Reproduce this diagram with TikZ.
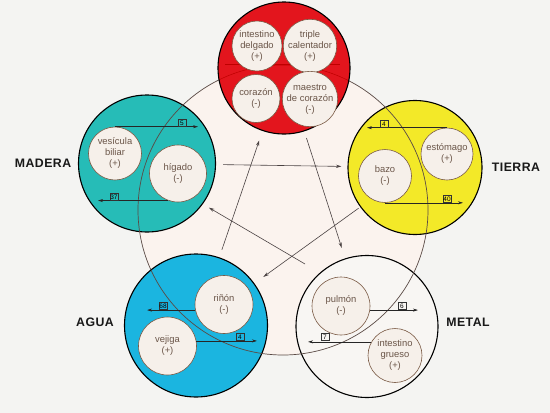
\documentclass[tikz,border=0pt]{standalone}
\usepackage{fontspec}
\setmainfont{Liberation Sans}
\newfontfamily\elemfont[LetterSpace=4]{Liberation Sans}
\usetikzlibrary{arrows.meta}
\definecolor{bg}{HTML}{F4F4F2}
\definecolor{bigfill}{HTML}{FBF3EE}
\definecolor{bigline}{HTML}{5A4A45}
\definecolor{firec}{HTML}{E3151D}
\definecolor{woodc}{HTML}{26BCB7}
\definecolor{earthc}{HTML}{F3E928}
\definecolor{waterc}{HTML}{1BB5E0}
\definecolor{metalc}{HTML}{F8F6F3}
\definecolor{organfill}{HTML}{F6F0EA}
\definecolor{organline}{HTML}{7A5A45}
\definecolor{organtext}{HTML}{6A5548}
\definecolor{starc}{HTML}{4A4242}
\begin{document}
\begin{tikzpicture}[x=1pt,y=-1pt,
  elem/.style={circle, draw=black, line width=1.1pt, inner sep=0pt},
  organ/.style={circle, draw=organline, line width=0.6pt, fill=organfill, inner sep=0pt,
    align=center, text=organtext, font=\fontsize{9.4}{11}\selectfont},
  arr/.style={-{Stealth[length=5pt,width=3pt]}, line width=0.6pt, draw=black!85},
  star/.style={-{Stealth[length=5.5pt,width=3.2pt]}, line width=0.6pt, draw=starc},
  numbox/.style={draw=black!80, line width=0.4pt, inner sep=0.6pt, anchor=south,
    minimum width=8pt, minimum height=7pt, font=\fontsize{6.5}{6.5}\selectfont},
  elemlabel/.style={font=\elemfont\bfseries\fontsize{12.3}{12.3}\selectfont, text=black!90}]
\useasboundingbox (0,0) rectangle (550,413);
\fill[bg] (0,0) rectangle (550,413);

% big cycle circle
\node[circle, fill=bigfill, minimum size=290pt, inner sep=0pt] (ciclo) at (283,210) {};

% element circles
\node[elem, fill=woodc, minimum size=137pt] (madera) at (147,163.5) {};
\node[elem, fill=earthc, minimum size=134pt] (tierra) at (415,167.5) {};
\node[elem, fill=waterc, minimum size=143pt] (agua) at (196,325.5) {};
\node[elem, fill=metalc, minimum size=142pt] (metal) at (367,326.5) {};

% outline of the cycle circle, visible over the element circles
\draw[bigline, line width=0.7pt] (ciclo.center) circle[radius=145pt];

\node[elem, fill=firec, minimum size=132pt] (fuego) at (284,68) {};
\begin{scope}
  \clip (fuego.center) circle[radius=65pt];
  \draw[red!75!black, line width=0.5pt] (ciclo.center) circle[radius=145pt];
  \draw[red!75!black, line width=0.4pt] (225,64) -- (340,64);
\end{scope}

% organs
\node[organ, minimum size=50pt] (intd) at (257,46) {intestino\\delgado\\(+)};
\node[organ, minimum size=49pt] (trip) at (310,46) {triple\\calentador\\(+)};
\node[organ, minimum size=48pt] (cora) at (256,98.5) {corazón\\(-)};
\node[organ, minimum size=49pt] (maes) at (310,99) {maestro\\de corazón\\(-)};

\node[organ, minimum size=53pt] (ves) at (115,153.5) {vesícula\\biliar\\(+)};
\node[organ, minimum size=57pt] (hig) at (178,173.5) {hígado\\(-)};

\node[organ, minimum size=52pt] (est) at (447,154) {estómago\\(+)};
\node[organ, minimum size=53pt] (bazo) at (385,176) {bazo\\(-)};

\node[organ, minimum size=58pt] (rin) at (224,304.5) {riñón\\(-)};
\node[organ, minimum size=58pt] (vej) at (167.5,346) {vejiga\\(+)};

\node[organ, minimum size=58pt] (pul) at (341,306) {pulmón\\(-)};
\node[organ, minimum size=54pt] (ig) at (395,355.5) {intestino\\grueso\\(+)};

% inner arrows with number boxes
\coordinate (e5) at (198,125);
\coordinate (e37) at (98,201);
\coordinate (e4a) at (367,128);
\coordinate (e40) at (463,203);
\coordinate (e68) at (147,310);
\coordinate (e4b) at (257,341);
\coordinate (e6) at (418,310);
\coordinate (e7) at (308,341);

\draw[arr] (ves.north) -- (ves.north -| e5);
\draw[arr] (hig.-110) -- (hig.-110 -| e37);
\draw[arr] (est.north) -- (est.north -| e4a);
\draw[arr] (bazo.south) -- (bazo.south -| e40);
\draw[arr] (rin.191) -- (rin.191 -| e68);
\draw[arr] (vej.10) -- (vej.10 -| e4b);
\draw[arr] (pul.-8) -- (pul.-8 -| e6);
\draw[arr] (ig.150) -- (ig.150 -| e7);

\node[numbox] (b5) at (182,126.5) {5};
\node[numbox] (b37) at (114,200.5) {37};
\node[numbox] (b4a) at (384,127.5) {4};
\node[numbox] (b40) at (447,202.5) {40};
\node[numbox] (b68) at (163,309.5) {68};
\node[numbox] (b4b) at (240,340.5) {4};
\node[numbox] (b6) at (402,309.5) {6};
\node[numbox] (b7) at (325,340.5) {7};

% cycle arrows (the star)
\coordinate (m1) at (305,264);
\draw[star, shorten <=7pt, shorten >=6pt] (madera) -- (tierra);
\draw[star, shorten <=7pt, shorten >=11pt] (fuego) -- (metal);
\draw[star, shorten <=2pt, shorten >=11pt] (tierra) -- (agua);
\draw[star, shorten >=7pt] (m1) -- (madera.-36);
\draw[star, shorten <=8pt, shorten >=10pt] (agua) -- (fuego);

% element names
\node[elemlabel] (lmadera) at (43,163.5) {MADERA};
\node[elemlabel] (ltierra) at (516,167.5) {TIERRA};
\node[elemlabel] (lagua) at (95,322.5) {AGUA};
\node[elemlabel] (lmetal) at (468,322.5) {METAL};
\end{tikzpicture}
\end{document}
